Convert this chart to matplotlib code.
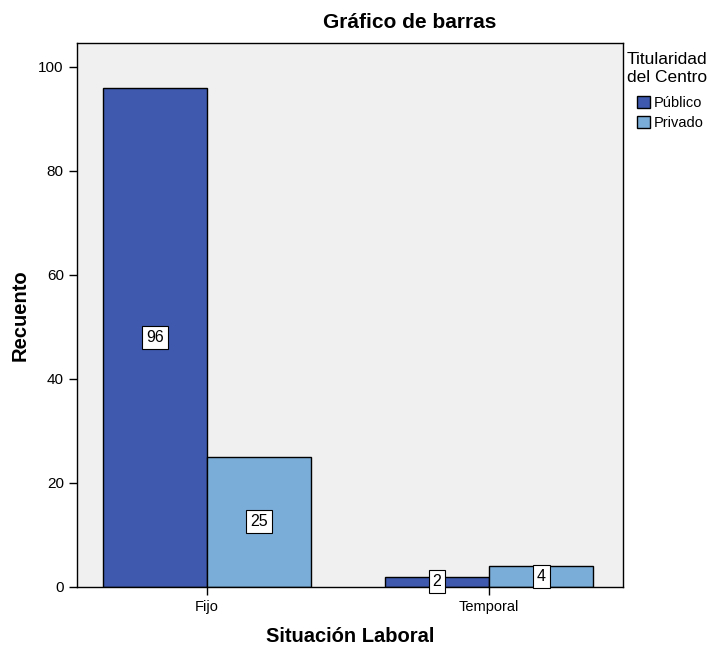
import matplotlib
matplotlib.use("Agg")
import matplotlib.pyplot as plt
import numpy as np

plt.rcParams['font.family'] = ['Liberation Sans', 'DejaVu Sans']

categories = ["Fijo", "Temporal"]
series_names = ["Público", "Privado"]
publico = [96, 2]
privado = [25, 4]
yticks = [0, 20, 40, 60, 80, 100]

colors = ["#3e59ad", "#7badd9"]

fig = plt.figure(figsize=(7.10, 6.46), dpi=100)
ax = fig.add_axes([77/710, 59/646, 546/710, 544/646])
ax.set_facecolor("#f0f0f0")

x = np.arange(len(categories))
w = 0.369
for i, (vals, c) in enumerate(zip([publico, privado], colors)):
    pos = x + (i - 0.5) * w
    ax.bar(pos, vals, width=w, color=c, edgecolor="black", linewidth=1.0,
           label=series_names[i], zorder=2)
    for p, v in zip(pos, vals):
        ax.text(p, v / 2, str(v), ha="center", va="center", fontsize=11.5,
                bbox=dict(boxstyle="square,pad=0.25", fc="white", ec="black", lw=0.8),
                zorder=3)

ax.set_xlim(-0.461, 1.475)
ax.set_ylim(0, 104.6)
ax.set_xticks(x)
ax.set_xticklabels(categories, fontsize=10.5)
ax.set_yticks(yticks)
ax.set_yticklabels([str(t) for t in yticks], fontsize=11)
ax.tick_params(direction="out", length=6, width=1)
for s in ax.spines.values():
    s.set_linewidth(1.0)

ax.set_xlabel("Situación Laboral", fontsize=14.5, fontweight="bold", va="center")
ax.xaxis.set_label_coords(0.5, (587 - 636) / 544)
ax.set_ylabel("Recuento", fontsize=14.5, fontweight="bold", va="center")
ax.yaxis.set_label_coords((20 - 77) / 546, 0.5)

fig.text(410/710, 1 - 22/646, "Gráfico de barras", fontsize=15,
         fontweight="bold", ha="center", va="center")

fig.text(627/710, 1 - 69/646, "Titularidad\ndel Centro", fontsize=12.5,
         ha="left", va="center", linespacing=1.25)
leg = fig.legend(loc="upper left", bbox_to_anchor=(637/710, 1 - 96/646),
                 frameon=False, fontsize=10.5,
                 handlelength=0.9, handleheight=0.9,
                 handletextpad=0.25, labelspacing=0.4, borderpad=0, borderaxespad=0)

fig.savefig("out.png", dpi=100)
